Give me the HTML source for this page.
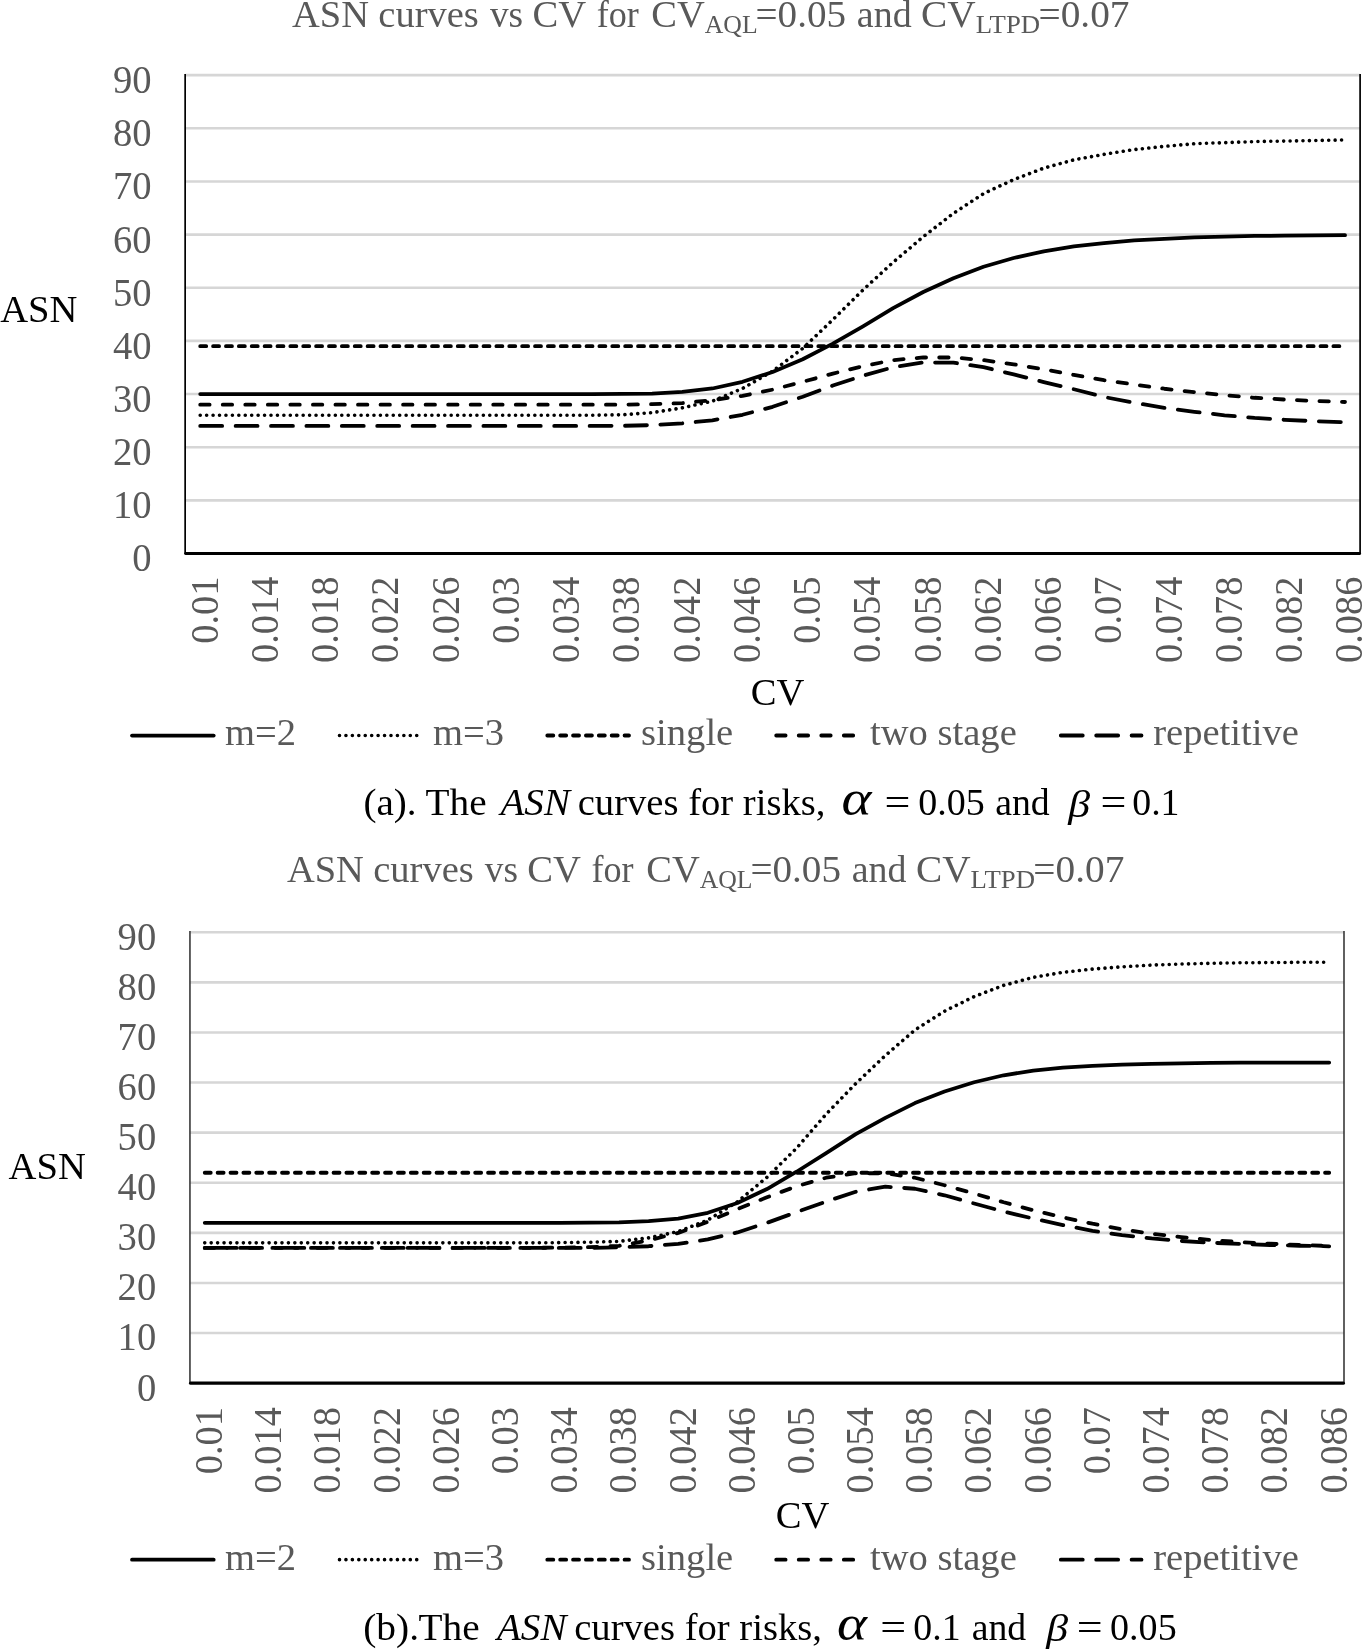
<!DOCTYPE html>
<html><head><meta charset="utf-8"><title>ASN curves</title>
<style>
html,body{margin:0;padding:0;background:#fff;}
body{width:1363px;height:1649px;overflow:hidden;}
svg{display:block;will-change:transform;font-family:'Liberation Serif', serif;}
</style></head><body>
<svg width="1363" height="1649" viewBox="0 0 1363 1649">
<rect width="1363" height="1649" fill="#fff"/>
<line x1="185.15" y1="500.35" x2="1360.10" y2="500.35" stroke="#d6d6d6" stroke-width="2.6"/>
<line x1="185.15" y1="447.20" x2="1360.10" y2="447.20" stroke="#d6d6d6" stroke-width="2.6"/>
<line x1="185.15" y1="394.05" x2="1360.10" y2="394.05" stroke="#d6d6d6" stroke-width="2.6"/>
<line x1="185.15" y1="340.90" x2="1360.10" y2="340.90" stroke="#d6d6d6" stroke-width="2.6"/>
<line x1="185.15" y1="287.75" x2="1360.10" y2="287.75" stroke="#d6d6d6" stroke-width="2.6"/>
<line x1="185.15" y1="234.60" x2="1360.10" y2="234.60" stroke="#d6d6d6" stroke-width="2.6"/>
<line x1="185.15" y1="181.45" x2="1360.10" y2="181.45" stroke="#d6d6d6" stroke-width="2.6"/>
<line x1="185.15" y1="128.30" x2="1360.10" y2="128.30" stroke="#d6d6d6" stroke-width="2.6"/>
<line x1="185.15" y1="75.15" x2="1360.10" y2="75.15" stroke="#d6d6d6" stroke-width="2.6"/>
<text transform="translate(151.60,571.40) scale(1,1.02)" text-anchor="end" font-size="38.6" fill="#595959">0</text>
<text transform="translate(151.60,518.25) scale(1,1.02)" text-anchor="end" font-size="38.6" fill="#595959">10</text>
<text transform="translate(151.60,465.10) scale(1,1.02)" text-anchor="end" font-size="38.6" fill="#595959">20</text>
<text transform="translate(151.60,411.95) scale(1,1.02)" text-anchor="end" font-size="38.6" fill="#595959">30</text>
<text transform="translate(151.60,358.80) scale(1,1.02)" text-anchor="end" font-size="38.6" fill="#595959">40</text>
<text transform="translate(151.60,305.65) scale(1,1.02)" text-anchor="end" font-size="38.6" fill="#595959">50</text>
<text transform="translate(151.60,252.50) scale(1,1.02)" text-anchor="end" font-size="38.6" fill="#595959">60</text>
<text transform="translate(151.60,199.35) scale(1,1.02)" text-anchor="end" font-size="38.6" fill="#595959">70</text>
<text transform="translate(151.60,146.20) scale(1,1.02)" text-anchor="end" font-size="38.6" fill="#595959">80</text>
<text transform="translate(151.60,93.05) scale(1,1.02)" text-anchor="end" font-size="38.6" fill="#595959">90</text>
<path d="M200.21,346.21 L230.34,346.21 L260.47,346.21 L290.59,346.21 L320.72,346.21 L350.85,346.21 L380.98,346.21 L411.10,346.21 L441.23,346.21 L471.36,346.21 L501.48,346.21 L531.61,346.21 L561.74,346.21 L591.86,346.21 L621.99,346.21 L652.12,346.21 L682.24,346.21 L712.37,346.21 L742.50,346.21 L772.62,346.21 L802.75,346.21 L832.88,346.21 L863.01,346.21 L893.13,346.21 L923.26,346.21 L953.39,346.21 L983.51,346.21 L1013.64,346.21 L1043.77,346.21 L1073.89,346.21 L1104.02,346.21 L1134.15,346.21 L1164.27,346.21 L1194.40,346.21 L1224.53,346.21 L1254.66,346.21 L1284.78,346.21 L1314.91,346.21 L1345.04,346.21" fill="none" stroke="#000" stroke-width="3.8" stroke-linecap="round" stroke-linejoin="round" stroke-dasharray="6.0 6.877"/>
<path d="M200.21,404.68 L230.34,404.68 L260.47,404.68 L290.59,404.68 L320.72,404.68 L350.85,404.68 L380.98,404.68 L411.10,404.68 L441.23,404.68 L471.36,404.68 L501.48,404.68 L531.61,404.68 L561.74,404.68 L591.86,404.68 L621.99,404.68 L652.12,404.15 L682.24,403.09 L712.37,400.11 L742.50,395.80 L772.62,389.64 L802.75,381.83 L832.88,373.59 L863.01,366.15 L893.13,360.14 L923.26,357.48 L953.39,357.48 L983.51,360.14 L1013.64,364.29 L1043.77,369.34 L1073.89,374.92 L1104.02,380.23 L1134.15,384.48 L1164.27,388.74 L1194.40,392.14 L1224.53,395.11 L1254.66,397.77 L1284.78,399.58 L1314.91,400.96 L1345.04,402.02" fill="none" stroke="#000" stroke-width="3.8" stroke-linecap="round" stroke-linejoin="round" stroke-dasharray="9.4 13.14"/>
<path d="M200.21,425.94 L230.34,425.94 L260.47,425.94 L290.59,425.94 L320.72,425.94 L350.85,425.94 L380.98,425.94 L411.10,425.94 L441.23,425.94 L471.36,425.94 L501.48,425.94 L531.61,425.94 L561.74,425.94 L591.86,425.94 L621.99,425.83 L652.12,425.14 L682.24,423.28 L712.37,420.36 L742.50,414.78 L772.62,406.81 L802.75,396.71 L832.88,385.55 L863.01,375.71 L893.13,367.21 L923.26,362.43 L953.39,362.69 L983.51,367.21 L1013.64,374.38 L1043.77,382.09 L1073.89,389.27 L1104.02,396.97 L1134.15,402.77 L1164.27,407.87 L1194.40,411.80 L1224.53,415.31 L1254.66,417.97 L1284.78,419.83 L1314.91,421.16 L1345.04,422.33" fill="none" stroke="#000" stroke-width="3.8" stroke-linecap="round" stroke-linejoin="round" stroke-dasharray="21.95 13.45"/>
<path d="M200.21,415.31 L230.34,415.31 L260.47,415.31 L290.59,415.31 L320.72,415.31 L350.85,415.31 L380.98,415.31 L411.10,415.31 L441.23,415.31 L471.36,415.31 L501.48,415.31 L531.61,415.31 L561.74,415.31 L591.86,415.20 L621.99,414.78 L652.12,412.65 L682.24,407.87 L712.37,401.17 L742.50,388.47 L772.62,371.20 L802.75,348.34 L832.88,319.64 L863.01,289.88 L893.13,262.24 L923.26,236.73 L953.39,213.34 L983.51,193.67 L1013.64,179.59 L1043.77,168.16 L1073.89,159.82 L1104.02,154.34 L1134.15,149.56 L1164.27,146.37 L1194.40,143.71 L1224.53,142.65 L1254.66,141.59 L1284.78,141.06 L1314.91,140.52 L1345.04,139.99" fill="none" stroke="#000" stroke-width="3.6" stroke-linecap="round" stroke-linejoin="round" stroke-dasharray="0.01 6.425"/>
<path d="M200.21,394.05 L230.34,394.05 L260.47,394.05 L290.59,394.05 L320.72,394.05 L350.85,394.05 L380.98,394.05 L411.10,394.05 L441.23,394.05 L471.36,394.05 L501.48,394.05 L531.61,394.05 L561.74,394.05 L591.86,394.05 L621.99,393.94 L652.12,393.57 L682.24,391.92 L712.37,388.47 L742.50,381.83 L772.62,371.99 L802.75,359.24 L832.88,343.56 L863.01,326.28 L893.13,308.21 L923.26,292.00 L953.39,278.18 L983.51,266.76 L1013.64,257.99 L1043.77,251.34 L1073.89,246.40 L1104.02,243.10 L1134.15,240.45 L1164.27,238.85 L1194.40,237.26 L1224.53,236.62 L1254.66,235.93 L1284.78,235.66 L1314.91,235.40 L1345.04,235.13" fill="none" stroke="#000" stroke-width="3.75" stroke-linecap="round" stroke-linejoin="round"/>
<line x1="185.15" y1="73.95" x2="185.15" y2="554.00" stroke="#000" stroke-width="1.7"/>
<line x1="1360.10" y1="73.95" x2="1360.10" y2="554.00" stroke="#000" stroke-width="1.7"/>
<line x1="185.75" y1="553.50" x2="1359.50" y2="553.50" stroke="#000" stroke-width="3.1" stroke-linecap="round"/>
<text transform="translate(217.51,576.60) rotate(-90) scale(1,1.04)" text-anchor="end" font-size="38.4" fill="#595959">0.01</text>
<text transform="translate(277.77,576.60) rotate(-90) scale(1,1.04)" text-anchor="end" font-size="38.4" fill="#595959">0.014</text>
<text transform="translate(338.02,576.60) rotate(-90) scale(1,1.04)" text-anchor="end" font-size="38.4" fill="#595959">0.018</text>
<text transform="translate(398.28,576.60) rotate(-90) scale(1,1.04)" text-anchor="end" font-size="38.4" fill="#595959">0.022</text>
<text transform="translate(458.53,576.60) rotate(-90) scale(1,1.04)" text-anchor="end" font-size="38.4" fill="#595959">0.026</text>
<text transform="translate(518.78,576.60) rotate(-90) scale(1,1.04)" text-anchor="end" font-size="38.4" fill="#595959">0.03</text>
<text transform="translate(579.04,576.60) rotate(-90) scale(1,1.04)" text-anchor="end" font-size="38.4" fill="#595959">0.034</text>
<text transform="translate(639.29,576.60) rotate(-90) scale(1,1.04)" text-anchor="end" font-size="38.4" fill="#595959">0.038</text>
<text transform="translate(699.54,576.60) rotate(-90) scale(1,1.04)" text-anchor="end" font-size="38.4" fill="#595959">0.042</text>
<text transform="translate(759.80,576.60) rotate(-90) scale(1,1.04)" text-anchor="end" font-size="38.4" fill="#595959">0.046</text>
<text transform="translate(820.05,576.60) rotate(-90) scale(1,1.04)" text-anchor="end" font-size="38.4" fill="#595959">0.05</text>
<text transform="translate(880.31,576.60) rotate(-90) scale(1,1.04)" text-anchor="end" font-size="38.4" fill="#595959">0.054</text>
<text transform="translate(940.56,576.60) rotate(-90) scale(1,1.04)" text-anchor="end" font-size="38.4" fill="#595959">0.058</text>
<text transform="translate(1000.81,576.60) rotate(-90) scale(1,1.04)" text-anchor="end" font-size="38.4" fill="#595959">0.062</text>
<text transform="translate(1061.07,576.60) rotate(-90) scale(1,1.04)" text-anchor="end" font-size="38.4" fill="#595959">0.066</text>
<text transform="translate(1121.32,576.60) rotate(-90) scale(1,1.04)" text-anchor="end" font-size="38.4" fill="#595959">0.07</text>
<text transform="translate(1181.57,576.60) rotate(-90) scale(1,1.04)" text-anchor="end" font-size="38.4" fill="#595959">0.074</text>
<text transform="translate(1241.83,576.60) rotate(-90) scale(1,1.04)" text-anchor="end" font-size="38.4" fill="#595959">0.078</text>
<text transform="translate(1302.08,576.60) rotate(-90) scale(1,1.04)" text-anchor="end" font-size="38.4" fill="#595959">0.082</text>
<text transform="translate(1362.34,576.60) rotate(-90) scale(1,1.04)" text-anchor="end" font-size="38.4" fill="#595959">0.086</text>
<text x="0.20" y="322.00" font-size="38.6" fill="#000">ASN</text>
<text x="750.70" y="705.00" font-size="38.6" fill="#000">CV</text>
<text transform="translate(292.00,26.90) scale(0.9967,1)" font-size="38.6" fill="#595959">ASN</text>
<text transform="translate(378.30,26.90) scale(0.9985,1)" font-size="38.6" fill="#595959">curves</text>
<text transform="translate(489.90,26.90) scale(0.9667,1)" font-size="38.6" fill="#595959">vs</text>
<text transform="translate(532.40,26.90) scale(1.0010,1)" font-size="38.6" fill="#595959">CV</text>
<text transform="translate(596.63,26.90) scale(0.9356,1)" font-size="38.6" fill="#595959">for</text>
<text transform="translate(651.30,26.90) scale(0.9990,1)" font-size="38.6" fill="#595959">CV</text>
<text transform="translate(704.75,32.60) scale(1.0139,1)" font-size="25.4" fill="#595959">AQL</text>
<text transform="translate(755.57,26.90) scale(1.0134,1)" font-size="38.6" fill="#595959">=0.05</text>
<text transform="translate(856.87,26.90) scale(0.9833,1)" font-size="38.6" fill="#595959">and</text>
<text transform="translate(921.07,26.90) scale(1.0203,1)" font-size="38.6" fill="#595959">CV</text>
<text transform="translate(975.71,32.60) scale(1.0538,1)" font-size="25.4" fill="#595959">LTPD</text>
<text transform="translate(1038.46,26.90) scale(1.0191,1)" font-size="38.6" fill="#595959">=0.07</text>
<line x1="132.00" y1="735.50" x2="213.70" y2="735.50" stroke="#000" stroke-width="3.75" stroke-linecap="round"/>
<text x="225" y="745.00" font-size="38.6" fill="#595959">m=2</text>
<line x1="339.50" y1="735.50" x2="417.00" y2="735.50" stroke="#000" stroke-width="3.6" stroke-linecap="round" stroke-dasharray="0.01 6.425"/>
<text x="433" y="745.00" font-size="38.6" fill="#595959">m=3</text>
<line x1="547.30" y1="735.50" x2="629.00" y2="735.50" stroke="#000" stroke-width="3.8" stroke-linecap="round" stroke-dasharray="6.0 6.877"/>
<text x="641.1" y="745.00" font-size="38.6" fill="#595959">single</text>
<line x1="776.20" y1="735.50" x2="854.00" y2="735.50" stroke="#000" stroke-width="3.8" stroke-linecap="round" stroke-dasharray="9.4 13.14"/>
<text x="870.0" y="745.00" font-size="38.6" fill="#595959" >two stage</text>
<line x1="1060.80" y1="735.50" x2="1141.50" y2="735.50" stroke="#000" stroke-width="3.8" stroke-linecap="round" stroke-dasharray="21.95 13.45"/>
<text x="1153.2" y="745.00" font-size="38.6" fill="#595959">repetitive</text>
<text transform="translate(363.43,815.20) scale(1.0114,1)" font-size="38.6" fill="#000">(a).</text>
<text transform="translate(425.54,815.20) scale(1.0172,1)" font-size="38.6" fill="#000">The</text>
<text transform="translate(500.52,815.20) scale(1.0118,1)" font-size="38.6" fill="#000" font-style="italic">ASN</text>
<text transform="translate(577.70,815.20) scale(1.0006,1)" font-size="38.6" fill="#000">curves for risks,</text>
<text transform="translate(841.52,815.20) scale(1.1200,1)" font-size="51" fill="#000" font-style="italic">&#945;</text>
<text transform="translate(884.42,815.20) scale(1.1900,1)" font-size="38.6" fill="#000">=</text>
<text transform="translate(918.32,815.20) scale(0.9850,1)" font-size="38.6" fill="#000">0.05</text>
<text transform="translate(995.18,815.20) scale(0.9778,1)" font-size="38.6" fill="#000">and</text>
<text transform="translate(1068.27,816.70) scale(1.1350,1)" font-size="38.6" fill="#000" font-style="italic">&#946;</text>
<text transform="translate(1100.62,815.20) scale(1.1900,1)" font-size="38.6" fill="#000">=</text>
<text transform="translate(1132.23,815.20) scale(0.9800,1)" font-size="38.6" fill="#000">0.1</text>
<line x1="189.95" y1="1333.05" x2="1344.00" y2="1333.05" stroke="#d6d6d6" stroke-width="2.6"/>
<line x1="189.95" y1="1282.95" x2="1344.00" y2="1282.95" stroke="#d6d6d6" stroke-width="2.6"/>
<line x1="189.95" y1="1232.85" x2="1344.00" y2="1232.85" stroke="#d6d6d6" stroke-width="2.6"/>
<line x1="189.95" y1="1182.75" x2="1344.00" y2="1182.75" stroke="#d6d6d6" stroke-width="2.6"/>
<line x1="189.95" y1="1132.65" x2="1344.00" y2="1132.65" stroke="#d6d6d6" stroke-width="2.6"/>
<line x1="189.95" y1="1082.55" x2="1344.00" y2="1082.55" stroke="#d6d6d6" stroke-width="2.6"/>
<line x1="189.95" y1="1032.45" x2="1344.00" y2="1032.45" stroke="#d6d6d6" stroke-width="2.6"/>
<line x1="189.95" y1="982.35" x2="1344.00" y2="982.35" stroke="#d6d6d6" stroke-width="2.6"/>
<line x1="189.95" y1="932.25" x2="1344.00" y2="932.25" stroke="#d6d6d6" stroke-width="2.6"/>
<text transform="translate(156.20,1400.55) scale(1,1.02)" text-anchor="end" font-size="38.6" fill="#595959">0</text>
<text transform="translate(156.20,1350.45) scale(1,1.02)" text-anchor="end" font-size="38.6" fill="#595959">10</text>
<text transform="translate(156.20,1300.35) scale(1,1.02)" text-anchor="end" font-size="38.6" fill="#595959">20</text>
<text transform="translate(156.20,1250.25) scale(1,1.02)" text-anchor="end" font-size="38.6" fill="#595959">30</text>
<text transform="translate(156.20,1200.15) scale(1,1.02)" text-anchor="end" font-size="38.6" fill="#595959">40</text>
<text transform="translate(156.20,1150.05) scale(1,1.02)" text-anchor="end" font-size="38.6" fill="#595959">50</text>
<text transform="translate(156.20,1099.95) scale(1,1.02)" text-anchor="end" font-size="38.6" fill="#595959">60</text>
<text transform="translate(156.20,1049.85) scale(1,1.02)" text-anchor="end" font-size="38.6" fill="#595959">70</text>
<text transform="translate(156.20,999.75) scale(1,1.02)" text-anchor="end" font-size="38.6" fill="#595959">80</text>
<text transform="translate(156.20,949.65) scale(1,1.02)" text-anchor="end" font-size="38.6" fill="#595959">90</text>
<path d="M204.75,1172.73 L234.34,1172.73 L263.93,1172.73 L293.52,1172.73 L323.11,1172.73 L352.70,1172.73 L382.29,1172.73 L411.88,1172.73 L441.47,1172.73 L471.06,1172.73 L500.66,1172.73 L530.25,1172.73 L559.84,1172.73 L589.43,1172.73 L619.02,1172.73 L648.61,1172.73 L678.20,1172.73 L707.79,1172.73 L737.38,1172.73 L766.97,1172.73 L796.57,1172.73 L826.16,1172.73 L855.75,1172.73 L885.34,1172.73 L914.93,1172.73 L944.52,1172.73 L974.11,1172.73 L1003.70,1172.73 L1033.29,1172.73 L1062.89,1172.73 L1092.48,1172.73 L1122.07,1172.73 L1151.66,1172.73 L1181.25,1172.73 L1210.84,1172.73 L1240.43,1172.73 L1270.02,1172.73 L1299.61,1172.73 L1329.20,1172.73" fill="none" stroke="#000" stroke-width="3.8" stroke-linecap="round" stroke-linejoin="round" stroke-dasharray="6.0 6.877"/>
<path d="M204.75,1247.88 L234.34,1247.88 L263.93,1247.88 L293.52,1247.88 L323.11,1247.88 L352.70,1247.88 L382.29,1247.88 L411.88,1247.88 L441.47,1247.88 L471.06,1247.88 L500.66,1247.88 L530.25,1247.88 L559.84,1247.63 L589.43,1247.13 L619.02,1245.88 L648.61,1240.37 L678.20,1232.95 L707.79,1221.83 L737.38,1209.05 L766.97,1197.28 L796.57,1186.26 L826.16,1177.74 L855.75,1173.23 L885.34,1173.23 L914.93,1177.74 L944.52,1185.26 L974.11,1193.52 L1003.70,1202.29 L1033.29,1210.31 L1062.89,1217.32 L1092.48,1223.73 L1122.07,1229.34 L1151.66,1233.70 L1181.25,1237.11 L1210.84,1240.01 L1240.43,1242.12 L1270.02,1243.72 L1299.61,1245.02 L1329.20,1246.03" fill="none" stroke="#000" stroke-width="3.8" stroke-linecap="round" stroke-linejoin="round" stroke-dasharray="9.4 13.14"/>
<path d="M204.75,1247.88 L234.34,1247.88 L263.93,1247.88 L293.52,1247.88 L323.11,1247.88 L352.70,1247.88 L382.29,1247.88 L411.88,1247.88 L441.47,1247.88 L471.06,1247.88 L500.66,1247.88 L530.25,1247.88 L559.84,1247.88 L589.43,1247.88 L619.02,1247.38 L648.61,1246.23 L678.20,1243.87 L707.79,1239.46 L737.38,1232.45 L766.97,1222.83 L796.57,1212.06 L826.16,1201.54 L855.75,1191.77 L885.34,1186.66 L914.93,1188.76 L944.52,1195.28 L974.11,1203.54 L1003.70,1211.56 L1033.29,1218.57 L1062.89,1225.08 L1092.48,1230.85 L1122.07,1235.10 L1151.66,1238.46 L1181.25,1240.97 L1210.84,1242.72 L1240.43,1244.02 L1270.02,1245.02 L1299.61,1245.73 L1329.20,1246.28" fill="none" stroke="#000" stroke-width="3.8" stroke-linecap="round" stroke-linejoin="round" stroke-dasharray="21.95 13.45"/>
<path d="M204.75,1242.87 L234.34,1242.87 L263.93,1242.87 L293.52,1242.87 L323.11,1242.87 L352.70,1242.87 L382.29,1242.87 L411.88,1242.87 L441.47,1242.87 L471.06,1242.87 L500.66,1242.87 L530.25,1242.87 L559.84,1242.62 L589.43,1242.22 L619.02,1241.37 L648.61,1237.86 L678.20,1231.60 L707.79,1220.07 L737.38,1201.79 L766.97,1177.24 L796.57,1148.18 L826.16,1114.11 L855.75,1083.55 L885.34,1055.50 L914.93,1029.95 L944.52,1011.16 L974.11,996.63 L1003.70,985.36 L1033.29,977.34 L1062.89,972.33 L1092.48,969.07 L1122.07,966.82 L1151.66,965.07 L1181.25,964.06 L1210.84,963.31 L1240.43,962.81 L1270.02,962.56 L1299.61,962.31 L1329.20,962.31" fill="none" stroke="#000" stroke-width="3.6" stroke-linecap="round" stroke-linejoin="round" stroke-dasharray="0.01 6.425"/>
<path d="M204.75,1222.83 L234.34,1222.83 L263.93,1222.83 L293.52,1222.83 L323.11,1222.83 L352.70,1222.83 L382.29,1222.83 L411.88,1222.83 L441.47,1222.83 L471.06,1222.83 L500.66,1222.83 L530.25,1222.83 L559.84,1222.83 L589.43,1222.68 L619.02,1222.33 L648.61,1221.18 L678.20,1218.57 L707.79,1212.81 L737.38,1203.04 L766.97,1189.01 L796.57,1171.73 L826.16,1153.19 L855.75,1134.15 L885.34,1117.87 L914.93,1103.09 L944.52,1091.57 L974.11,1082.30 L1003.70,1075.29 L1033.29,1070.53 L1062.89,1067.52 L1092.48,1065.77 L1122.07,1064.51 L1151.66,1063.76 L1181.25,1063.26 L1210.84,1062.91 L1240.43,1062.66 L1270.02,1062.51 L1299.61,1062.51 L1329.20,1062.51" fill="none" stroke="#000" stroke-width="3.75" stroke-linecap="round" stroke-linejoin="round"/>
<line x1="189.95" y1="931.05" x2="189.95" y2="1383.65" stroke="#333" stroke-width="1.55"/>
<line x1="1344.00" y1="931.05" x2="1344.00" y2="1383.65" stroke="#333" stroke-width="1.55"/>
<line x1="190.55" y1="1383.15" x2="1343.40" y2="1383.15" stroke="#000" stroke-width="3.1" stroke-linecap="round"/>
<text transform="translate(222.05,1407.10) rotate(-90) scale(1,1.04)" text-anchor="end" font-size="38.4" fill="#595959">0.01</text>
<text transform="translate(281.23,1407.10) rotate(-90) scale(1,1.04)" text-anchor="end" font-size="38.4" fill="#595959">0.014</text>
<text transform="translate(340.41,1407.10) rotate(-90) scale(1,1.04)" text-anchor="end" font-size="38.4" fill="#595959">0.018</text>
<text transform="translate(399.59,1407.10) rotate(-90) scale(1,1.04)" text-anchor="end" font-size="38.4" fill="#595959">0.022</text>
<text transform="translate(458.77,1407.10) rotate(-90) scale(1,1.04)" text-anchor="end" font-size="38.4" fill="#595959">0.026</text>
<text transform="translate(517.96,1407.10) rotate(-90) scale(1,1.04)" text-anchor="end" font-size="38.4" fill="#595959">0.03</text>
<text transform="translate(577.14,1407.10) rotate(-90) scale(1,1.04)" text-anchor="end" font-size="38.4" fill="#595959">0.034</text>
<text transform="translate(636.32,1407.10) rotate(-90) scale(1,1.04)" text-anchor="end" font-size="38.4" fill="#595959">0.038</text>
<text transform="translate(695.50,1407.10) rotate(-90) scale(1,1.04)" text-anchor="end" font-size="38.4" fill="#595959">0.042</text>
<text transform="translate(754.68,1407.10) rotate(-90) scale(1,1.04)" text-anchor="end" font-size="38.4" fill="#595959">0.046</text>
<text transform="translate(813.87,1407.10) rotate(-90) scale(1,1.04)" text-anchor="end" font-size="38.4" fill="#595959">0.05</text>
<text transform="translate(873.05,1407.10) rotate(-90) scale(1,1.04)" text-anchor="end" font-size="38.4" fill="#595959">0.054</text>
<text transform="translate(932.23,1407.10) rotate(-90) scale(1,1.04)" text-anchor="end" font-size="38.4" fill="#595959">0.058</text>
<text transform="translate(991.41,1407.10) rotate(-90) scale(1,1.04)" text-anchor="end" font-size="38.4" fill="#595959">0.062</text>
<text transform="translate(1050.59,1407.10) rotate(-90) scale(1,1.04)" text-anchor="end" font-size="38.4" fill="#595959">0.066</text>
<text transform="translate(1109.78,1407.10) rotate(-90) scale(1,1.04)" text-anchor="end" font-size="38.4" fill="#595959">0.07</text>
<text transform="translate(1168.96,1407.10) rotate(-90) scale(1,1.04)" text-anchor="end" font-size="38.4" fill="#595959">0.074</text>
<text transform="translate(1228.14,1407.10) rotate(-90) scale(1,1.04)" text-anchor="end" font-size="38.4" fill="#595959">0.078</text>
<text transform="translate(1287.32,1407.10) rotate(-90) scale(1,1.04)" text-anchor="end" font-size="38.4" fill="#595959">0.082</text>
<text transform="translate(1346.50,1407.10) rotate(-90) scale(1,1.04)" text-anchor="end" font-size="38.4" fill="#595959">0.086</text>
<text x="8.60" y="1179.00" font-size="38.6" fill="#000">ASN</text>
<text x="775.70" y="1527.80" font-size="38.6" fill="#000">CV</text>
<text transform="translate(286.90,881.90) scale(0.9967,1)" font-size="38.6" fill="#595959">ASN</text>
<text transform="translate(373.20,881.90) scale(0.9985,1)" font-size="38.6" fill="#595959">curves</text>
<text transform="translate(484.80,881.90) scale(0.9667,1)" font-size="38.6" fill="#595959">vs</text>
<text transform="translate(527.30,881.90) scale(1.0010,1)" font-size="38.6" fill="#595959">CV</text>
<text transform="translate(591.53,881.90) scale(0.9356,1)" font-size="38.6" fill="#595959">for</text>
<text transform="translate(646.20,881.90) scale(0.9990,1)" font-size="38.6" fill="#595959">CV</text>
<text transform="translate(699.65,887.60) scale(1.0139,1)" font-size="25.4" fill="#595959">AQL</text>
<text transform="translate(750.47,881.90) scale(1.0134,1)" font-size="38.6" fill="#595959">=0.05</text>
<text transform="translate(851.77,881.90) scale(0.9833,1)" font-size="38.6" fill="#595959">and</text>
<text transform="translate(915.97,881.90) scale(1.0203,1)" font-size="38.6" fill="#595959">CV</text>
<text transform="translate(970.61,887.60) scale(1.0538,1)" font-size="25.4" fill="#595959">LTPD</text>
<text transform="translate(1033.36,881.90) scale(1.0191,1)" font-size="38.6" fill="#595959">=0.07</text>
<line x1="132.00" y1="1559.65" x2="213.70" y2="1559.65" stroke="#000" stroke-width="3.75" stroke-linecap="round"/>
<text x="225" y="1570.00" font-size="38.6" fill="#595959">m=2</text>
<line x1="339.50" y1="1559.65" x2="417.00" y2="1559.65" stroke="#000" stroke-width="3.6" stroke-linecap="round" stroke-dasharray="0.01 6.425"/>
<text x="433" y="1570.00" font-size="38.6" fill="#595959">m=3</text>
<line x1="547.30" y1="1559.65" x2="629.00" y2="1559.65" stroke="#000" stroke-width="3.8" stroke-linecap="round" stroke-dasharray="6.0 6.877"/>
<text x="641.1" y="1570.00" font-size="38.6" fill="#595959">single</text>
<line x1="776.20" y1="1559.65" x2="854.00" y2="1559.65" stroke="#000" stroke-width="3.8" stroke-linecap="round" stroke-dasharray="9.4 13.14"/>
<text x="870.0" y="1570.00" font-size="38.6" fill="#595959" >two stage</text>
<line x1="1060.80" y1="1559.65" x2="1141.50" y2="1559.65" stroke="#000" stroke-width="3.8" stroke-linecap="round" stroke-dasharray="21.95 13.45"/>
<text x="1153.2" y="1570.00" font-size="38.6" fill="#595959">repetitive</text>
<text transform="translate(363.21,1639.60) scale(1.0209,1)" font-size="38.6" fill="#000">(b).</text>
<text transform="translate(418.54,1639.60) scale(1.0172,1)" font-size="38.6" fill="#000">The</text>
<text transform="translate(497.02,1639.60) scale(1.0118,1)" font-size="38.6" fill="#000" font-style="italic">ASN</text>
<text transform="translate(574.20,1639.60) scale(1.0010,1)" font-size="38.6" fill="#000">curves for risks,</text>
<text transform="translate(837.02,1639.60) scale(1.1200,1)" font-size="51" fill="#000" font-style="italic">&#945;</text>
<text transform="translate(880.22,1639.60) scale(1.1900,1)" font-size="38.6" fill="#000">=</text>
<text transform="translate(913.33,1639.60) scale(0.9800,1)" font-size="38.6" fill="#000">0.1</text>
<text transform="translate(971.68,1639.60) scale(0.9778,1)" font-size="38.6" fill="#000">and</text>
<text transform="translate(1046.17,1641.10) scale(1.1350,1)" font-size="38.6" fill="#000" font-style="italic">&#946;</text>
<text transform="translate(1076.72,1639.60) scale(1.1900,1)" font-size="38.6" fill="#000">=</text>
<text transform="translate(1110.12,1639.60) scale(0.9850,1)" font-size="38.6" fill="#000">0.05</text>
</svg>
</body></html>
